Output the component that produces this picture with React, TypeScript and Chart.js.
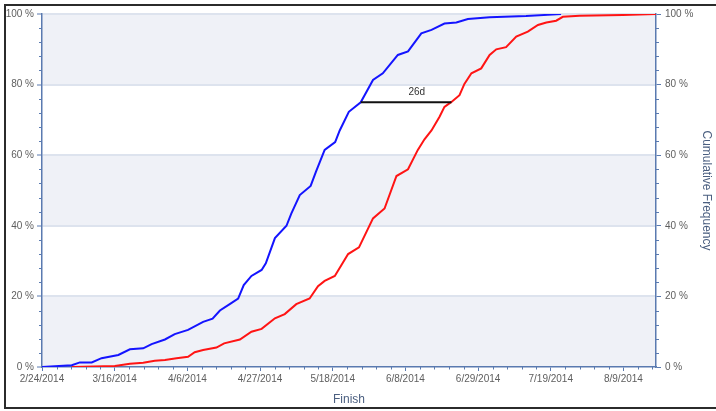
import React, { useEffect, useRef } from 'react';
import { Chart, registerables } from 'chart.js';

Chart.register(...registerables);

// Days since 2/24/2014
const blueDays = [0, 8.5, 10.8, 14.2, 17.0, 21.8, 25.1, 28.9, 31.3, 35.1, 37.9, 41.7, 46.0, 48.7, 50.8, 53.6, 56.0, 57.6, 59.8, 62.7, 63.9, 66.5, 69.8, 71.2, 73.6, 76.7, 78.2, 80.7, 83.7, 85.0, 87.6, 91.0, 94.5, 97.3, 101.6, 104.5, 108.3, 111.2, 114.9, 118.3, 121.6, 127.8, 138.2, 148.2];
const bluePct = [0, 0.5, 1.3, 1.3, 2.5, 3.4, 5.0, 5.3, 6.5, 7.8, 9.3, 10.5, 12.8, 13.7, 16.0, 17.8, 19.4, 23.2, 25.8, 27.5, 29.4, 36.5, 40.0, 43.5, 48.7, 51.3, 55.3, 61.5, 63.7, 67.0, 72.3, 75.0, 81.3, 83.2, 88.4, 89.4, 94.5, 95.5, 97.3, 97.6, 98.6, 99.1, 99.4, 100];

const redDays = [8.5, 20.8, 25.1, 28.9, 32.2, 35.1, 38.4, 41.7, 43.6, 46.0, 49.8, 52.0, 56.5, 59.8, 62.7, 66.5, 69.3, 72.6, 76.4, 78.8, 80.7, 83.6, 87.4, 90.5, 94.5, 97.8, 101.2, 104.5, 107.3, 109.2, 111.2, 113.5, 114.9, 116.9, 119.2, 120.6, 122.6, 125.4, 127.8, 129.7, 132.5, 135.4, 138.7, 141.6, 144.0, 146.8, 148.7, 153.5, 165.8, 175.3];
const redPct = [0, 0.3, 0.9, 1.2, 1.8, 2.0, 2.5, 2.9, 4.2, 4.8, 5.5, 6.7, 7.8, 10.0, 10.8, 13.8, 15.0, 17.8, 19.4, 22.9, 24.4, 25.8, 32.0, 33.9, 42.1, 44.9, 54.1, 56.0, 61.5, 64.5, 67.0, 70.9, 73.7, 75.1, 77.0, 80.2, 83.2, 84.6, 88.4, 90.0, 90.6, 93.6, 95.0, 96.9, 97.6, 98.1, 99.2, 99.5, 99.7, 100];

const xTickDays = [0, 20.75, 41.5, 62.25, 83, 103.75, 124.5, 145.25, 166];
const xTickLabels = ['2/24/2014', '3/16/2014', '4/6/2014', '4/27/2014', '5/18/2014', '6/8/2014', '6/29/2014', '7/19/2014', '8/9/2014'];
const xMax = 175.3;
const xMinorStep = 4.15;
const yMinorStep = 4;

const gapLevel = 75;
const gapStart = 91.0;
const gapEnd = 116.9;
const gapLabel = '26d';
const gapLabelDay = 107.0;

const AXIS = '#5a7ab0';
const GRID = '#dde3ee';
const BAND = '#eff1f7';
const TICK_TXT = '#5e5e5e';
const TITLE_TXT = '#4b5f80';
const FONT = '"Liberation Sans", Arial, sans-serif';

const decor = {
  id: 'decor',
  beforeDraw(chart: any) {
    const { ctx, chartArea: a, scales } = chart;
    const y = scales.y;
    ctx.save();
    ctx.fillStyle = BAND;
    for (let v = 0; v < 100; v += 40) {
      const t = y.getPixelForValue(v + 20);
      const b = y.getPixelForValue(v);
      ctx.fillRect(a.left, t, a.right - a.left, b - t);
    }
    ctx.restore();
  },
  afterDraw(chart: any) {
    const { ctx, chartArea: a, scales } = chart;
    const x = scales.x;
    const y = scales.y;
    ctx.save();
    ctx.strokeStyle = AXIS;
    ctx.lineWidth = 1;
    ctx.beginPath();
    for (let v = yMinorStep; v < 100; v += yMinorStep) {
      if (v % 20 === 0) continue;
      const py = Math.round(y.getPixelForValue(v)) + 0.5;
      ctx.moveTo(a.left - 3, py);
      ctx.lineTo(a.left, py);
      ctx.moveTo(a.right, py);
      ctx.lineTo(a.right + 3, py);
    }
    for (let i = 1; i * xMinorStep <= xMax; i++) {
      if (i % 5 === 0) continue;
      const px = Math.round(x.getPixelForValue(i * xMinorStep)) + 0.5;
      ctx.moveTo(px, a.bottom);
      ctx.lineTo(px, a.bottom + 2.5);
    }
    ctx.stroke();
    ctx.fillStyle = '#333';
    ctx.font = '10px ' + FONT;
    ctx.textAlign = 'center';
    ctx.textBaseline = 'middle';
    ctx.fillText(gapLabel, x.getPixelForValue(gapLabelDay), y.getPixelForValue(gapLevel) - 10.5);
    ctx.restore();
  },
};

export default function App() {
  const ref = useRef<HTMLCanvasElement>(null);
  useEffect(() => {
    if (!ref.current) return;
    const chart = new Chart(ref.current, {
      type: 'line',
      data: {
        datasets: [
          {
            data: [{ x: gapStart, y: gapLevel }, { x: gapEnd, y: gapLevel }],
            borderColor: '#111',
            borderWidth: 2,
            pointRadius: 0,
            yAxisID: 'y',
          },
          {
            data: blueDays.map((d, i) => ({ x: d, y: bluePct[i] })),
            borderColor: '#1414ff',
            borderWidth: 2,
            pointRadius: 0,
            tension: 0,
            yAxisID: 'y',
          },
          {
            data: redDays.map((d, i) => ({ x: d, y: redPct[i] })),
            borderColor: '#ff1414',
            borderWidth: 2,
            pointRadius: 0,
            tension: 0,
            yAxisID: 'y',
          },
        ],
      },
      options: {
        animation: false,
        responsive: false,
        devicePixelRatio: 1,
        layout: { padding: { left: 0, right: 0, top: 14, bottom: 0 } },
        plugins: { legend: { display: false }, tooltip: { enabled: false } },
        scales: {
          x: {
            type: 'linear',
            min: 0,
            max: xMax,
            afterBuildTicks: (s: any) => {
              s.ticks = xTickDays.map((v) => ({ value: v }));
            },
            afterFit: (s: any) => {
              s.height = 44;
            },
            ticks: {
              autoSkip: false,
              maxRotation: 0,
              padding: 2,
              color: TICK_TXT,
              font: { family: FONT, size: 10 },
              callback: (_v: any, i: number) => xTickLabels[i],
            },
            grid: { drawOnChartArea: false, tickLength: 4, tickColor: AXIS, tickWidth: 1 },
            border: { color: AXIS, width: 1.5 },
            title: {
              display: true,
              text: 'Finish',
              color: TITLE_TXT,
              font: { family: FONT, size: 12 },
              padding: { top: 0, bottom: 4 },
            },
          },
          y: {
            position: 'left',
            min: 0,
            max: 100,
            afterFit: (s: any) => {
              s.width = 42;
            },
            ticks: {
              stepSize: 20,
              padding: 3,
              color: TICK_TXT,
              font: { family: FONT, size: 10 },
              callback: (v: any) => v + ' %',
            },
            grid: {
              color: (c: any) => (c.tick && c.tick.value === 0 ? 'rgba(0,0,0,0)' : GRID),
              lineWidth: 2,
              tickLength: 5,
              tickColor: AXIS,
              tickWidth: 1,
            },
            border: { color: AXIS, width: 1.5 },
          },
          y2: {
            position: 'right',
            min: 0,
            max: 100,
            afterFit: (s: any) => {
              s.width = 60;
            },
            ticks: {
              stepSize: 20,
              padding: 4,
              color: TICK_TXT,
              font: { family: FONT, size: 10 },
              callback: (v: any) => v + ' %',
            },
            grid: { drawOnChartArea: false, tickLength: 5, tickColor: AXIS, tickWidth: 1 },
            border: { color: AXIS, width: 1.5 },
            title: {
              display: true,
              text: 'Cumulative Frequency',
              color: TITLE_TXT,
              font: { family: FONT, size: 12 },
              padding: { top: 2, bottom: 0 },
            },
          },
        },
      },
      plugins: [decor],
    } as any);
    return () => chart.destroy();
  }, []);

  return (
    <div style={{ position: 'fixed', left: 0, top: 0, width: 716, height: 411, overflow: 'hidden', background: '#fff' }}>
      <div
        style={{
          position: 'absolute',
          left: 4,
          top: 4,
          width: 730,
          height: 405,
          boxSizing: 'border-box',
          border: '2px solid #2b2b2b',
        }}
      />
      <canvas ref={ref} width={716} height={411} style={{ position: 'absolute', left: 0, top: 0, width: 716, height: 411 }} />
    </div>
  );
}
